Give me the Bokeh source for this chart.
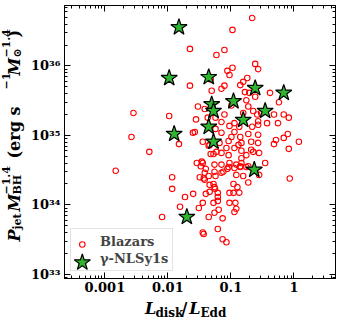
import math
from bokeh.plotting import figure
from bokeh.layouts import row, column
from bokeh.models import Range1d, LogAxis, LogScale, FixedTicker, Label, Legend, LegendItem
from bokeh.embed import file_html
from bokeh.resources import INLINE

# ---- data (L_disk/L_Edd, P_jet M_BH^-1.4) ----
blazar_ratio = [
    0.218, 0.106, 0.0224, 0.079, 0.059, 0.243, 0.271, 0.106, 0.088, 0.095,
    0.182, 0.157, 0.141, 0.0224, 0.0478, 0.079, 0.071, 0.0496, 0.196, 0.418,
    0.243, 0.58, 0.176, 0.030, 0.102, 0.189, 0.226, 0.00285, 0.0105, 0.0385,
    0.079, 0.157, 0.262, 0.302, 0.483, 0.69, 0.83, 0.271, 0.043, 0.057,
    0.028, 0.071, 0.114, 0.375, 0.56, 0.095, 0.136, 0.218, 0.271, 0.0268,
    0.025, 0.00265, 0.057, 0.071, 0.114, 0.141, 0.189, 0.271, 0.0150, 0.0358,
    0.046, 0.066, 0.102, 0.092, 0.147, 0.21, 0.52, 0.483, 0.69, 0.80,
    1.2, 0.83, 0.00508, 0.059, 0.085, 0.114, 0.147, 0.226, 0.0478, 0.092,
    0.00149, 0.0288, 0.0345, 0.0333, 0.055, 0.071, 0.095, 0.092, 0.122, 0.147,
    0.141, 0.189, 0.35, 0.040, 0.071, 0.088, 0.114, 0.176, 0.055, 0.0445,
    0.057, 0.0321, 0.0385, 0.122, 0.157, 0.189, 0.281, 0.0117, 0.86, 0.053,
    0.055, 0.056, 0.11, 0.127, 0.136, 0.0117, 0.0252, 0.0187, 0.040, 0.046,
    0.062, 0.095, 0.11, 0.062, 0.053, 0.062, 0.0358, 0.095, 0.118, 0.122,
    0.114, 0.0156, 0.031, 0.055, 0.064, 0.0445, 0.074, 0.0081, 0.062, 0.0358,
    0.037, 0.074, 0.085, 0.0445, 0.053, 0.071, 0.132, 0.271, 0.281, 0.21,
    0.176, 0.147, 0.076, 0.0385, 0.0358, 0.037, 0.046, 0.141, 0.167,
]
blazar_pjet = [
    4.9e36, 3.3e36, 1.76e36, 1.7e36, 1.44e36, 1.07e36, 9.0e35, 9.4e35, 8.5e35, 7.4e35,
    6.7e35, 5.9e35, 5.3e35, 5.2e35, 6.4e35, 5.2e35, 4.7e35, 4.4e35, 4.1e35, 4.1e35,
    3.6e35, 3.0e35, 3.2e35, 2.6e35, 2.7e35, 2.6e35, 2.25e35, 2.1e35, 1.9e35, 2.4e35,
    2.0e35, 2.1e35, 2.0e35, 2.1e35, 2.0e35, 2.0e35, 1.8e35, 1.6e35, 1.8e35, 1.8e35,
    1.7e35, 1.56e35, 1.5e35, 1.5e35, 1.5e35, 1.37e35, 1.33e35, 1.33e35, 1.42e35, 1.12e35,
    1.09e35, 9.5e34, 1.24e35, 1.09e35, 1.12e35, 9.5e34, 1.05e35, 1.02e35, 7.5e34, 8.1e34,
    7.3e34, 7.8e34, 9.5e34, 8.3e34, 7.8e34, 8.1e34, 8.6e34, 7.5e34, 9.2e34, 1.05e35,
    8.1e34, 6.4e34, 5.8e34, 5.8e34, 6.6e34, 6.6e34, 6.0e34, 5.8e34, 5.4e34, 5.2e34,
    3.1e34, 4.0e34, 4.2e34, 3.6e34, 3.8e34, 3.8e34, 4.0e34, 3.5e34, 3.8e34, 4.0e34,
    3.6e34, 3.6e34, 4.0e34, 3.3e34, 2.9e34, 3.3e34, 3.4e34, 3.5e34, 3.0e34, 2.6e34,
    2.6e34, 2.5e34, 2.3e34, 2.7e34, 2.6e34, 2.1e34, 2.7e34, 2.5e34, 2.4e34, 2.0e34,
    1.8e34, 1.7e34, 2.0e34, 1.8e34, 1.5e34, 1.7e34, 1.44e34, 1.3e34, 1.44e34, 1.54e34,
    1.49e34, 1.49e34, 1.49e34, 1.3e34, 1.07e34, 1.14e34, 1.07e34, 1.07e34, 1.07e34, 8.8e33,
    7.9e33, 9.4e33, 9.0e33, 7.7e33, 8.5e33, 6.7e33, 6.4e33, 6.7e33, 4.5e33, 4.0e33,
    3.8e33, 3.2e33, 2.9e33, 7.1e34, 5.4e34, 5.6e34, 7.3e34, 7.8e34, 5.6e34, 6.2e34,
    5.2e34, 4.7e34, 3.0e34, 2.9e34, 4.0e34, 2.4e34, 1.94e34, 3.5e34, 4.2e35,
]

nlsy1_ratio = [0.0150, 0.0105, 0.0445, 0.0496, 0.053, 0.11, 0.243, 0.69,
               0.35, 0.157, 0.0445, 0.0126, 0.053, 0.235, 0.020]
nlsy1_pjet = [3.6e36, 6.7e35, 6.9e35, 2.8e35, 2.25e35, 3.1e35, 4.8e35, 4.1e35,
              2.25e35, 1.67e35, 1.33e35, 1.05e35, 8.1e34, 3.2e34, 6.7e33]

legend_labels = ["Blazars", "γ-NLSy1s"]
x_ticks = [0.001, 0.01, 0.1, 1]
x_tick_labels = ["0.001", "0.01", "0.1", "1"]
y_ticks = [1e33, 1e34, 1e35, 1e36]
y_tick_labels = ["10³³", "10³⁴", "10³⁵", "10³⁶"]

SERIF = "DejaVu Serif"
RED = "red"
GREEN = "#2fb52f"

# ---- geometry (page px) ----
W, H = 341, 321
YT_W = 28                     # strip for the y title
XT_H = 25                     # strip for the x title
FL, FR, FT, FB = 61, 335, 5, 278
XLOG0, XLOG1 = -3.64, 0.66
YLOG0, YLOG1 = 32.94, 36.87
MAIN_W, MAIN_H = W - YT_W, H - XT_H

def strip(w, h, x0, y0):
    f = figure(width=w, height=h, x_axis_type=None, y_axis_type=None,
               x_range=Range1d(x0, x0 + w), y_range=Range1d(y0 + h, y0),
               output_backend="svg", toolbar_location=None, min_border=0,
               title=None)
    f.outline_line_color = None
    f.background_fill_color = "white"
    f.border_fill_color = "white"
    return f

p = figure(width=MAIN_W, height=MAIN_H, x_axis_type=None, y_axis_type=None,
           x_range=Range1d(10 ** XLOG0, 10 ** XLOG1),
           y_range=Range1d(10 ** YLOG0, 10 ** YLOG1),
           output_backend="svg", toolbar_location=None,
           min_border_left=FL - YT_W, min_border_right=W - FR,
           min_border_top=FT, min_border_bottom=MAIN_H - FB)
p.x_scale = LogScale()
p.y_scale = LogScale()
p.outline_line_color = "black"
p.outline_line_width = 1
p.background_fill_color = "white"
p.border_fill_color = "white"

def X(px):
    return 10 ** (XLOG0 + (px - FL) * (XLOG1 - XLOG0) / (FR - FL))

def Y(py):
    return 10 ** (YLOG1 - (py - FT) * (YLOG1 - YLOG0) / (FB - FT))

x_minor = [k * 10.0 ** e for e in range(-4, 1) for k in range(2, 10)]
y_minor = [k * 10.0 ** e for e in range(32, 37) for k in range(2, 10)]

def style_axis(ax, labels):
    ax.major_tick_in = 6
    ax.major_tick_out = 0
    ax.minor_tick_in = 3
    ax.minor_tick_out = 0
    ax.axis_line_color = "black"
    ax.major_tick_line_color = "black"
    ax.minor_tick_line_color = "black"
    ax.major_label_text_font = SERIF
    ax.major_label_text_font_style = "bold"
    ax.major_label_text_font_size = "13px"
    ax.major_label_text_color = "black"
    if not labels:
        ax.major_label_text_alpha = 0.0
        ax.major_label_text_font_size = "1px"
        ax.major_label_standoff = 0

xb = LogAxis(ticker=FixedTicker(ticks=x_ticks, minor_ticks=x_minor),
             major_label_overrides=dict(zip(x_ticks, x_tick_labels)))
style_axis(xb, True)
xb.major_label_standoff = 3
p.add_layout(xb, "below")
xa = LogAxis(ticker=FixedTicker(ticks=x_ticks, minor_ticks=x_minor))
style_axis(xa, False)
p.add_layout(xa, "above")
yl = LogAxis(ticker=FixedTicker(ticks=y_ticks, minor_ticks=y_minor),
             major_label_overrides=dict(zip(y_ticks, y_tick_labels)))
style_axis(yl, True)
yl.major_label_standoff = 4
p.add_layout(yl, "left")
yr = LogAxis(ticker=FixedTicker(ticks=y_ticks, minor_ticks=y_minor))
style_axis(yr, False)
p.add_layout(yr, "right")

p.scatter(blazar_ratio, blazar_pjet, marker="circle", size=5.5,
          fill_color=None, line_color=RED, line_width=1.1)
p.scatter(nlsy1_ratio, nlsy1_pjet, marker="star", size=17,
          fill_color=GREEN, line_color="black", line_width=1.2)

# ---- legend: box + labels from Bokeh, keys drawn at their own sizes ----
d1 = p.scatter([], [], marker="circle", fill_alpha=0, line_alpha=0)
d2 = p.scatter([], [], marker="star", fill_alpha=0, line_alpha=0)
legend = Legend(items=[LegendItem(label=legend_labels[0], renderers=[d1]),
                       LegendItem(label=legend_labels[1], renderers=[d2])],
                location=(6, 7))
legend.label_text_font = SERIF
legend.label_text_font_style = "bold"
legend.label_text_font_size = "13px"
legend.border_line_color = "#c8c8c8"
legend.border_line_width = 1
legend.background_fill_alpha = 0.0
legend.glyph_width = 17
legend.glyph_height = 16
legend.label_height = 16
legend.label_standoff = 8
legend.spacing = 1
legend.padding = 4
legend.margin = 0
p.add_layout(legend, "center")
p.scatter([X(79)], [Y(244)], marker="circle", size=5.5, fill_color=None,
          line_color=RED, line_width=1.1)
p.scatter([X(79)], [Y(262)], marker="star", size=17, fill_color=GREEN,
          line_color="black", line_width=1.2)

# ---- axis titles: text pieces in two strips, positions in page px ----
yfig = strip(YT_W, H, 0, 0)
xfig = strip(W - YT_W, XT_H, YT_W, MAIN_H)

def piece(fig, text, px, py, size, style, angle=0.0):
    fig.add_layout(Label(x=px, y=py, text=text,
                         text_font=SERIF, text_font_style=style,
                         text_font_size=f"{size}px", text_color="black",
                         angle=angle, text_align="left",
                         text_baseline="alphabetic"))

# x title: L_disk / L_Edd
for t, px, py, sz, st in [("L", 121, 308, 16, "bold italic"),
                          ("disk", 133, 312, 12, "bold"),
                          ("/", 163, 308, 16, "bold"),
                          ("L", 172, 308, 16, "bold italic"),
                          ("Edd", 185, 312, 12, "bold")]:
    piece(xfig, t, px, py, sz, st)

# y title: P_jet M_BH^-1.4 (erg s^-1 M_sun^-1.4)
A = math.pi / 2
for t, px, py, sz, st in [("P", 14, 241, 16, "bold italic"),
                          ("jet", 17, 229, 11, "bold"),
                          ("M", 14, 211, 16, "bold italic"),
                          ("BH", 17, 194, 11, "bold"),
                          ("−1.4", 5, 194, 11, "bold"),
                          ("(erg s", 14, 158, 16, "bold"),
                          ("−1", 5, 89, 11, "bold"),
                          ("M", 14, 75, 16, "bold italic"),
                          ("⊙", 17, 57, 11, "bold"),
                          ("−1.4", 5, 57, 11, "bold"),
                          (")", 14, 37, 16, "bold")]:
    piece(yfig, t, px, py, sz, st, A)

layout = row(yfig, column(p, xfig))
open("out.html", "w").write(file_html(layout, INLINE))
